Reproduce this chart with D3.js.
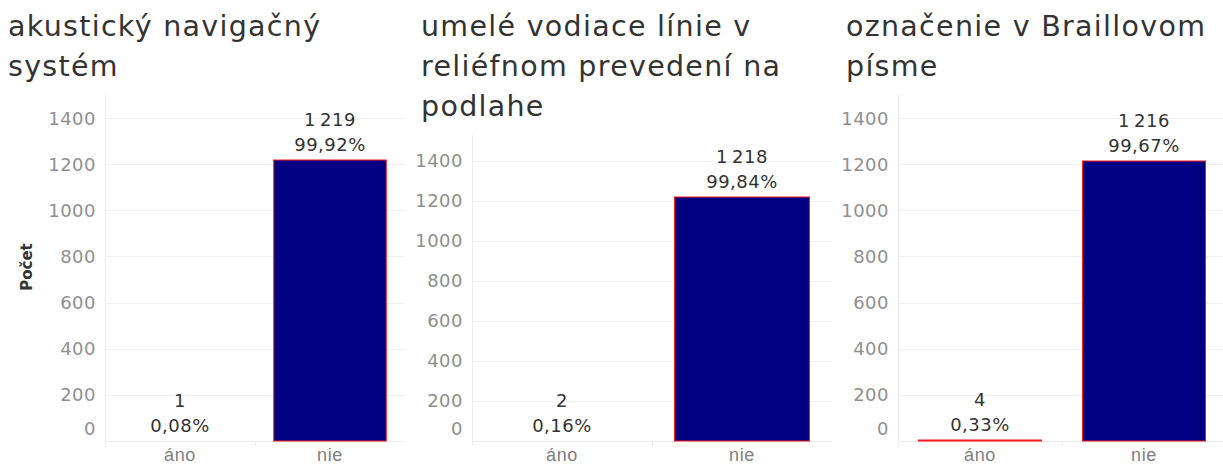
<!DOCTYPE html>
<html>
<head>
<meta charset="utf-8">
<script src="https://cdn.jsdelivr.net/npm/d3@7"></script>
<style>
  html, body { margin: 0; padding: 0; background: #fff; }
  svg { display: block; font-family: "DejaVu Sans", sans-serif; }
</style>
</head>
<body>
<svg id="chart" width="1223" height="468"></svg>
<script>
// Survey answers: three accessibility features, yes / no counts
const titles = [
  ["akustický navigačný", "systém"],
  ["umelé vodiace línie v", "reliéfnom prevedení na", "podlahe"],
  ["označenie v Braillovom", "písme"]
];
const categories = ["áno", "nie"];
const countsAcoustic = [1, 1219];
const countsGuideLines = [2, 1218];
const countsBraille = [4, 1216];
const yTicks = [0, 200, 400, 600, 800, 1000, 1200, 1400];
const yAxisTitle = "Počet";

const seriesCounts = [countsAcoustic, countsGuideLines, countsBraille];

// Slovak number formatting: space for thousands, comma for decimals
const sk = d3.formatLocale({ decimal: ",", thousands: "\u2009", grouping: [3], currency: ["", " €"] });
const fmtCount = sk.format(",d");
const fmtPct = sk.format(".2%");

// Panel layout
const panels = [
  { x0: 105, x1: 405, titleX: 8,   yMax: 1500 },
  { x0: 472, x1: 832, titleX: 421, yMax: 1530 },
  { x0: 898, x1: 1226, titleX: 846, yMax: 1500 }
];
const baseY = 441;
const titleTop = 36, titleLine = 40;

const svg = d3.select("#chart");

panels.forEach((p, i) => {
  const counts = seriesCounts[i];
  const total = d3.sum(counts);
  const lines = titles[i];
  const plotTop = titleTop + (lines.length - 1) * titleLine + 19;

  const g = svg.append("g");

  // Title
  const t = g.append("text")
    .attr("x", p.titleX).attr("y", titleTop)
    .attr("fill", "#333").attr("font-size", 28.5)
    .attr("letter-spacing", 1.3);
  lines.forEach((l, k) => t.append("tspan").attr("x", p.titleX).attr("y", titleTop + k * titleLine).text(l));

  const y = d3.scaleLinear().domain([0, p.yMax]).range([baseY, plotTop]);
  const x = d3.scaleBand().domain(categories).range([p.x0, p.x1])
    .paddingInner(0.25).paddingOuter(0.125);

  // Gridlines
  g.append("g").selectAll("line").data(yTicks).join("line")
    .attr("x1", p.x0).attr("x2", p.x1)
    .attr("y1", d => Math.round(y(d)) + 0.5).attr("y2", d => Math.round(y(d)) + 0.5)
    .attr("stroke", "#f0f0f0").attr("stroke-width", 1);

  // Y axis line
  g.append("line")
    .attr("x1", p.x0 + 0.5).attr("x2", p.x0 + 0.5)
    .attr("y1", plotTop).attr("y2", baseY + 5)
    .attr("stroke", "#ebebeb");

  // Y tick labels
  g.append("g").selectAll("text").data(yTicks).join("text")
    .attr("x", p.x0 - 9)
    .attr("y", d => d === 0 ? y(d) - 12 : y(d))
    .attr("dy", "0.36em")
    .attr("text-anchor", "end")
    .attr("fill", "#8f8f8f").attr("font-size", 18)
    .attr("letter-spacing", 0.5)
    .text(d => d);

  // X axis: category labels
  const xAxis = d3.axisBottom(x).tickSize(0).tickPadding(0);
  const ax = g.append("g").attr("transform", `translate(0,${baseY})`).call(xAxis);
  ax.select(".domain").remove();
  ax.selectAll("text")
    .attr("y", 20).attr("dy", null)
    .attr("font-size", 18).attr("letter-spacing", 0.6)
    .attr("fill", "#808080").attr("font-family", null);

  // Baseline and category separators
  g.append("line").attr("x1", p.x0).attr("x2", p.x1)
    .attr("y1", baseY + 0.5).attr("y2", baseY + 0.5).attr("stroke", "#ebebeb");
  g.append("g").selectAll("line").data(categories).join("line")
    .attr("x1", (d, k) => Math.round(p.x0 + k * x.step()) + 0.5)
    .attr("x2", (d, k) => Math.round(p.x0 + k * x.step()) + 0.5)
    .attr("y1", baseY).attr("y2", baseY + 5)
    .attr("stroke", "#ebebeb");

  // Bars (heights snapped to whole pixels)
  const barH = k => Math.round(baseY - y(counts[k]));
  g.append("g").selectAll("rect").data(categories).join("rect")
    .attr("x", d => x(d))
    .attr("width", x.bandwidth())
    .attr("y", (d, k) => baseY - barH(k))
    .attr("height", (d, k) => barH(k))
    .attr("fill", "#000080")
    .attr("stroke", (d, k) => barH(k) > 0 ? "#ff1a1a" : "none")
    .attr("stroke-width", 1);

  // Value labels: count and share
  const lbl = g.append("g").selectAll("g").data(categories).join("g")
    .attr("transform", (d, k) => `translate(${x(d) + x.bandwidth() / 2},${y(counts[k])})`);
  lbl.append("text").attr("y", -34).attr("text-anchor", "middle")
    .attr("fill", "#333").attr("font-size", 18).attr("letter-spacing", 0.5)
    .text((d, k) => fmtCount(counts[k]));
  lbl.append("text").attr("y", -9).attr("text-anchor", "middle")
    .attr("fill", "#333").attr("font-size", 18).attr("letter-spacing", 0.5)
    .text((d, k) => fmtPct(counts[k] / total));
});

// Shared y axis title
svg.append("text")
  .attr("transform", "translate(32,267) rotate(-90)")
  .attr("text-anchor", "middle")
  .attr("font-size", 15).attr("font-weight", "bold").attr("fill", "#333")
  .text(yAxisTitle);
</script>
</body>
</html>
